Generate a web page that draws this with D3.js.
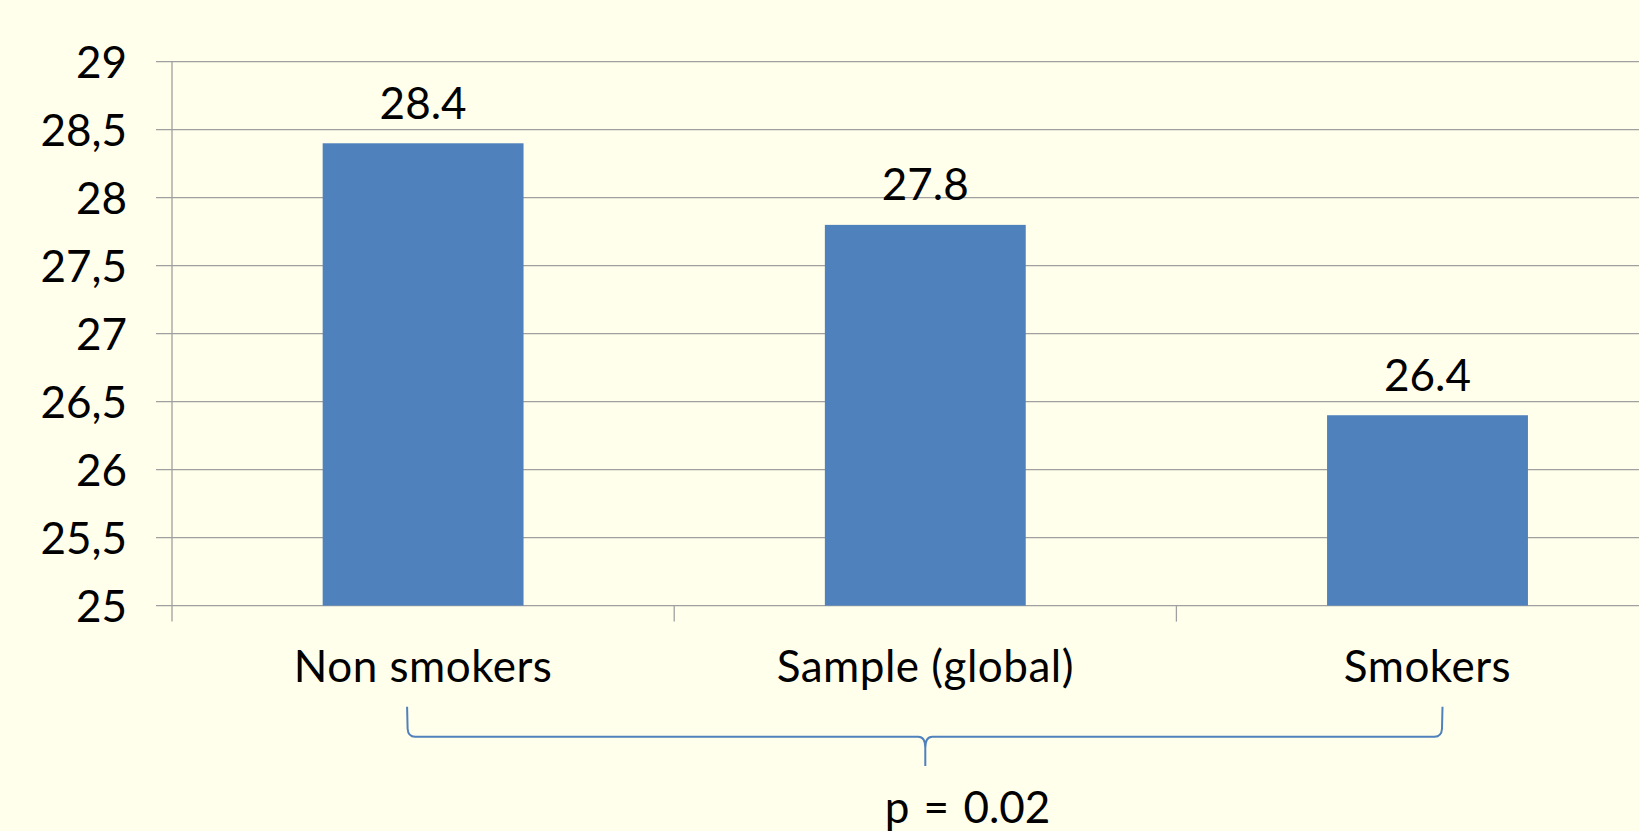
<!DOCTYPE html>
<html>
<head>
<meta charset="utf-8">
<script src="https://cdn.jsdelivr.net/npm/d3@7"></script>
<style>
  html, body { margin: 0; padding: 0; background: #FFFFEB; }
  svg { display: block; }
  text { font-family: Lato, "Open Sans", sans-serif; fill: #000; }
</style>
</head>
<body>
<svg id="chart" width="1639" height="831"></svg>
<script>
// Mean values per group
const categories = ["Non smokers", "Sample (global)", "Smokers"];
const values = [28.4, 27.8, 26.4];
const valueLabels = ["28.4", "27.8", "26.4"];
const yTicks = [25, 25.5, 26, 26.5, 27, 27.5, 28, 28.5, 29];
const yTickLabels = ["25", "25,5", "26", "26,5", "27", "27,5", "28", "28,5", "29"];
const pValueText = "p = 0.02";

const W = 1639, H = 831;
const axisX = 172, plotTop = 61.7, plotBase = 605.6;
const fontSize = 44;
const gridColor = "#a0a0a0";
const barColor = "#4F81BD";

const svg = d3.select("#chart");
svg.append("rect").attr("width", W).attr("height", H).attr("fill", "#FFFFEB");

const y = d3.scaleLinear().domain([25, 29]).range([plotBase, plotTop]);
const x = d3.scaleBand().domain(categories)
  .range([axisX, axisX + 3 * 502.2])
  .paddingInner(0.6).paddingOuter(0.3);

// horizontal gridlines
svg.append("g").selectAll("line").data(yTicks).join("line")
  .attr("x1", axisX - 16).attr("x2", W)
  .attr("y1", d => y(d)).attr("y2", d => y(d))
  .attr("stroke", gridColor).attr("stroke-width", 1.3);

// y axis with comma decimals
const yAxis = d3.axisLeft(y).tickValues(yTicks)
  .tickFormat((d, i) => yTickLabels[i]).tickSize(0).tickPadding(45);
const gy = svg.append("g").attr("transform", `translate(${axisX},0)`).call(yAxis);
gy.select(".domain").remove();
gy.selectAll("text").attr("font-size", fontSize).attr("dy", "0.35em")
  .style("font-family", "Lato, 'Open Sans', sans-serif").attr("fill", "#000");

// vertical axis line
svg.append("line")
  .attr("x1", axisX).attr("x2", axisX).attr("y1", plotTop).attr("y2", plotBase + 16)
  .attr("stroke", gridColor).attr("stroke-width", 1.3);

// category separators below the baseline
const step = x.step();
const sepX = d3.range(1, categories.length + 1).map(i => axisX + i * step);
svg.append("g").selectAll("line").data(sepX).join("line")
  .attr("x1", d => d).attr("x2", d => d).attr("y1", plotBase).attr("y2", plotBase + 16)
  .attr("stroke", gridColor).attr("stroke-width", 1.3);

// bars
svg.append("g").selectAll("rect").data(values).join("rect")
  .attr("x", (d, i) => x(categories[i]))
  .attr("width", x.bandwidth())
  .attr("y", d => y(d))
  .attr("height", d => plotBase - y(d))
  .attr("fill", barColor);

// value labels
svg.append("g").selectAll("text").data(values).join("text")
  .attr("x", (d, i) => x(categories[i]) + x.bandwidth() / 2)
  .attr("y", d => y(d) - 24.5)
  .attr("text-anchor", "middle").attr("font-size", fontSize)
  .text((d, i) => valueLabels[i]);

// category labels
svg.append("g").selectAll("text").data(categories).join("text")
  .attr("x", d => x(d) + x.bandwidth() / 2)
  .attr("y", 681.7)
  .attr("text-anchor", "middle").attr("font-size", fontSize)
  .attr("letter-spacing", 0.5)
  .text(d => d);

// brace grouping all three categories
const xl = x(categories[0]) + x.bandwidth() / 2 - 16;
const xr = x(categories[2]) + x.bandwidth() / 2 + 15;
const xc = x(categories[1]) + x.bandwidth() / 2;
const bt = 706.7, bl = 736.7, tip = 766;
const brace = d3.path();
brace.moveTo(xl, bt);
brace.lineTo(xl + 0.5, bl - 8);
brace.quadraticCurveTo(xl + 1, bl, xl + 8, bl);
brace.lineTo(xc - 7, bl);
brace.quadraticCurveTo(xc, bl, xc, bl + 11);
brace.lineTo(xc, tip);
brace.moveTo(xc, bl + 11);
brace.quadraticCurveTo(xc, bl, xc + 7, bl);
brace.lineTo(xr - 8, bl);
brace.quadraticCurveTo(xr - 1, bl, xr - 0.5, bl - 8);
brace.lineTo(xr, bt);
svg.append("path").attr("d", brace.toString())
  .attr("fill", "none").attr("stroke", barColor).attr("stroke-width", 2);

// significance label
svg.append("text")
  .attr("x", 967.5).attr("y", 823.3)
  .attr("text-anchor", "middle").attr("font-size", fontSize)
  .attr("word-spacing", 3)
  .text(pValueText);
</script>
</body>
</html>
